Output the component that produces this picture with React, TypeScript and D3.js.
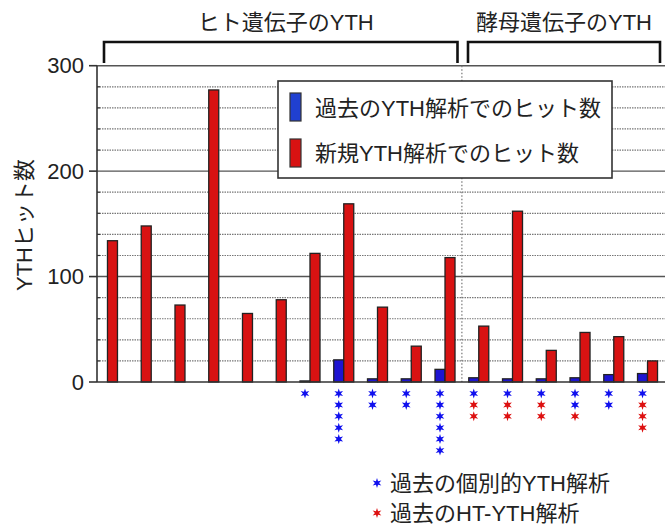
import React from 'react';
import * as d3 from 'd3';

const categories = ['h1','h2','h3','h4','h5','h6','h7','h8','h9','h10','h11','y1','y2','y3','y4','y5','y6'];
const pastHits = [0,0,0,0,0,0,1,21,3,3,12,4,3,3,4,7,8];
const newHits = [134,148,73,277,65,78,122,169,71,34,118,53,162,30,47,43,20];
const individualStars = [0,0,0,0,0,0,1,5,2,2,6,1,1,1,2,2,1];
const htStars = [0,0,0,0,0,0,0,0,0,0,0,2,2,2,1,0,3];
const yTicks = [0,100,200,300];
const minorTicks = [20,40,60,80,120,140,160,180,220,240,260,280];
const groupTitles = ['ヒト遺伝子のYTH','酵母遺伝子のYTH'];
const legendLabels = ['過去のYTH解析でのヒット数','新規YTH解析でのヒット数'];
const starLegend = ['過去の個別的YTH解析','過去のHT-YTH解析'];
const yLabel = 'YTHヒット数';

const W = 665, H = 526;
const FONT = '"Liberation Sans", Arial, "Noto Sans CJK JP", sans-serif';
const RED = '#d81212';
const BLUE = '#1e14d2';
const STAR_BLUE = '#1010ee';
const STAR_RED = '#dd1010';
const TEXT = '#222';

const axisX = 97;
const x = d3.scaleBand().domain(categories).range([90.6, 664.4]).paddingInner(0).paddingOuter(0);
const sub = d3.scaleBand().domain(['past','new']).range([0, x.bandwidth()]).paddingInner(0).paddingOuter(0.6875);
const y = d3.scaleLinear().domain([0,300]).range([382, 65.7]);

const starPath = (() => {
  const pts: [number, number][] = d3.range(12).map(i => [i * Math.PI / 6, i % 2 === 0 ? 5.0 : 2.1]);
  return d3.lineRadial().curve(d3.curveLinearClosed)(pts) || '';
})();

export default function App() {
  const divX = x(categories[11])!;
  const humanStart = 104, humanEnd = 457.5, yeastStart = 468, yeastEnd = 660;
  const bracketTop = 42, bracketBottom = 63;
  const starRow0 = 393.5, starStep = 11.4;

  return (
    <svg width={W} height={H} style={{position:'absolute', left:0, top:0, background:'#fff'}} fontFamily={FONT}>
      <rect x={0} y={0} width={W} height={H} fill="#fff" />
      {minorTicks.map(v => (
        <line key={'m'+v} x1={axisX} x2={W} y1={y(v)} y2={y(v)} stroke="#777" strokeWidth={1.2} strokeDasharray="1.5,1" />
      ))}
      {yTicks.filter(v => v > 0).map(v => (
        <line key={'g'+v} x1={axisX} x2={W} y1={y(v)} y2={y(v)} stroke="#555" strokeWidth={1.4} />
      ))}
      <line x1={divX} x2={divX} y1={y(300)} y2={y(0)} stroke="#777" strokeWidth={1.2} strokeDasharray="1.5,2" />
      {categories.map((c, i) => {
        const x0 = x(c)!;
        return (
          <g key={c}>
            {pastHits[i] > 0 && (
              <rect x={x0 + sub('past')!} y={y(pastHits[i])} width={sub.bandwidth()} height={y(0) - y(pastHits[i])}
                fill={BLUE} stroke="#222" strokeWidth={1.3} />
            )}
            <rect x={x0 + sub('new')!} y={y(newHits[i])} width={sub.bandwidth()} height={y(0) - y(newHits[i])}
              fill={RED} stroke="#222" strokeWidth={1.3} />
          </g>
        );
      })}
      <line x1={axisX} x2={W} y1={y(0)} y2={y(0)} stroke="#333" strokeWidth={1.6} />
      <line x1={axisX} x2={axisX} y1={y(300)} y2={y(0)} stroke="#333" strokeWidth={1.6} />
      {yTicks.map(v => (
        <g key={'t'+v}>
          <line x1={89} x2={axisX} y1={y(v)} y2={y(v)} stroke="#333" strokeWidth={1.6} />
          <text x={84} y={y(v)} textAnchor="end" dominantBaseline="central" fontSize={22} fill={TEXT}>{v}</text>
        </g>
      ))}
      {minorTicks.map(v => (
        <line key={'mt'+v} x1={axisX} x2={axisX + 3} y1={y(v)} y2={y(v)} stroke="#333" strokeWidth={1.2} />
      ))}
      <text transform={`translate(24,225) rotate(-90)`} textAnchor="middle" dominantBaseline="central" fontSize={22} fill={TEXT}>{yLabel}</text>
      {categories.map((c, i) => {
        const cx = x(c)! + sub('past')! + sub.bandwidth() / 2;
        const stars = [
          ...d3.range(individualStars[i]).map(() => STAR_BLUE),
          ...d3.range(htStars[i]).map(() => STAR_RED),
        ];
        return stars.map((col, k) => (
          <path key={c + 's' + k} d={starPath} transform={`translate(${cx},${starRow0 + k * starStep})`} fill={col} />
        ));
      })}
      <path d={`M${humanStart},${bracketBottom}V${bracketTop}H${humanEnd}V${bracketBottom}`} fill="none" stroke="#111" strokeWidth={2.6} />
      <path d={`M${yeastStart},${bracketBottom}V${bracketTop}H${yeastEnd}V${bracketBottom}`} fill="none" stroke="#111" strokeWidth={2.6} />
      <text x={(humanStart + humanEnd) / 2 + 5} y={22} textAnchor="middle" dominantBaseline="central" fontSize={22} fill={TEXT}>{groupTitles[0]}</text>
      <text x={(yeastStart + yeastEnd) / 2} y={22} textAnchor="middle" dominantBaseline="central" fontSize={22} fill={TEXT}>{groupTitles[1]}</text>
      <rect x={278} y={81} width={334} height={97} fill="#fff" stroke="#333" strokeWidth={1.6} />
      <rect x={290} y={93} width={11} height={28} fill="#2040d0" stroke="#333" strokeWidth={1.2} />
      <text x={315} y={108} dominantBaseline="central" fontSize={22} fill={TEXT}>{legendLabels[0]}</text>
      <rect x={290} y={139} width={11} height={28} fill={RED} stroke="#333" strokeWidth={1.2} />
      <text x={315} y={153} dominantBaseline="central" fontSize={22} fill={TEXT}>{legendLabels[1]}</text>
      <path d={starPath} transform="translate(377,483)" fill={STAR_BLUE} />
      <text x={390} y={483} dominantBaseline="central" fontSize={22} fill={TEXT}>{starLegend[0]}</text>
      <path d={starPath} transform="translate(377,513)" fill={STAR_RED} />
      <text x={390} y={513} dominantBaseline="central" fontSize={22} fill={TEXT}>{starLegend[1]}</text>
    </svg>
  );
}
